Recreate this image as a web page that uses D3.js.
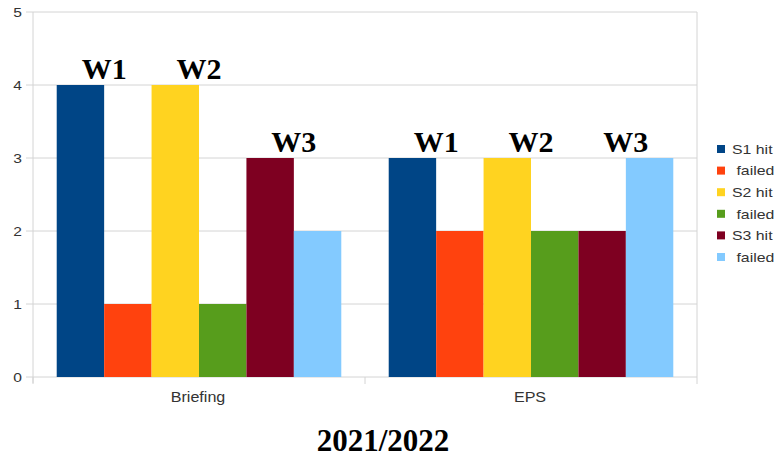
<!DOCTYPE html>
<html>
<head>
<meta charset="utf-8">
<script src="https://cdn.jsdelivr.net/npm/d3@7"></script>
<style>
  html, body { margin: 0; padding: 0; background: #fff; }
  svg { display: block; }
</style>
</head>
<body>
<svg id="chart" width="775" height="457"></svg>
<script>
// Categories along the x axis
const categories = ["Briefing", "EPS"];
// Series names as shown in the legend
const seriesNames = ["S1 hit", " failed", "S2 hit", " failed", "S3 hit", " failed"];
const seriesColors = ["#004586", "#ff420e", "#ffd320", "#579d1c", "#7e0021", "#83caff"];
// Values per category, one per series
const briefingValues = [4, 1, 4, 1, 3, 2];
const epsValues = [3, 2, 3, 2, 2, 3];
const values = [briefingValues, epsValues];
// Group labels, each placed over a hit/failed pair
const weekLabels = ["W1", "W2", "W3"];
const yTicks = [0, 1, 2, 3, 4, 5];
const chartTitle = "2021/2022";

const svg = d3.select("#chart");
const plotLeft = 33, plotRight = 697, plotTop = 12, plotBottom = 377;
const sansFont = "Liberation Sans, Arial, sans-serif";
const serifFont = "Liberation Serif, Times New Roman, serif";
const textColor = "#333";
const gridColor = "#d4d4d4";

const x0 = d3.scaleBand().domain(categories).range([plotLeft, plotRight]).padding(0);
const x1 = d3.scaleBand().domain(d3.range(seriesNames.length))
  .range([0, x0.bandwidth()]).paddingInner(0).paddingOuter(0.5);
const y = d3.scaleLinear().domain([0, 5]).range([plotBottom, plotTop]);

// Sans labels are drawn slightly widened
function wideText(sel, x, yPos, sx) {
  return sel.attr("x", 0).attr("y", 0)
    .attr("transform", (d, i) => `translate(${x(d, i)},${yPos(d, i)}) scale(${sx},1)`);
}

// Horizontal grid lines
svg.append("g").selectAll("line").data(yTicks).join("line")
  .attr("x1", plotLeft - 7).attr("x2", plotRight)
  .attr("y1", d => y(d)).attr("y2", d => y(d))
  .attr("stroke", gridColor).attr("stroke-width", 1);

// Right border and left axis line
svg.append("line").attr("x1", plotRight).attr("x2", plotRight).attr("y1", plotTop).attr("y2", plotBottom)
  .attr("stroke", gridColor);
svg.append("line").attr("x1", plotLeft).attr("x2", plotLeft).attr("y1", plotTop).attr("y2", plotBottom + 6)
  .attr("stroke", gridColor);

// Category dividers below the axis
const dividers = [plotLeft, ...categories.map(c => x0(c) + x0.bandwidth())];
svg.append("g").selectAll("line").data(dividers).join("line")
  .attr("x1", d => d).attr("x2", d => d)
  .attr("y1", plotBottom).attr("y2", plotBottom + 7)
  .attr("stroke", gridColor);

// Y tick labels
wideText(
  svg.append("g").selectAll("text").data(yTicks).join("text"),
  () => 22, d => y(d) + 4.5, 1.2)
  .attr("text-anchor", "end")
  .attr("font-family", sansFont)
  .attr("font-size", 13).attr("fill", textColor)
  .text(d => d);

// Bars
const groups = svg.append("g").selectAll("g").data(categories).join("g")
  .attr("transform", c => `translate(${x0(c)},0)`);
groups.selectAll("rect")
  .data((c, ci) => values[ci].map((v, i) => ({ v, i })))
  .join("rect")
  .attr("x", d => x1(d.i))
  .attr("width", x1.bandwidth())
  .attr("y", d => y(d.v))
  .attr("height", d => y(0) - y(d.v))
  .attr("fill", d => seriesColors[d.i]);

// Week labels over each hit/failed pair
groups.each(function (c, ci) {
  const g = d3.select(this);
  weekLabels.forEach((w, k) => {
    const hi = Math.max(values[ci][2 * k], values[ci][2 * k + 1]);
    g.append("text")
      .attr("x", x1(2 * k) + x1.bandwidth())
      .attr("y", y(hi) - 6)
      .attr("text-anchor", "middle")
      .attr("font-family", serifFont)
      .attr("font-weight", "bold")
      .attr("font-size", 30)
      .attr("fill", "#000")
      .text(w);
  });
});

// Category labels
wideText(
  svg.append("g").selectAll("text").data(categories).join("text"),
  c => x0(c) + x0.bandwidth() / 2 - 1, () => 402, 1.15)
  .attr("text-anchor", "middle")
  .attr("font-family", sansFont)
  .attr("font-size", 14).attr("fill", textColor)
  .text(c => c);

// Legend
const legend = svg.append("g").selectAll("g").data(seriesNames).join("g")
  .attr("transform", (d, i) => `translate(717,${149 + i * 21.6})`);
legend.append("rect").attr("x", 0).attr("y", -4).attr("width", 8).attr("height", 8)
  .attr("fill", (d, i) => seriesColors[i]);
legend.append("text")
  .attr("transform", "translate(15,4.7) scale(1.22,1)")
  .attr("font-family", sansFont)
  .attr("font-size", 13).attr("fill", textColor)
  .style("white-space", "pre")
  .text(d => d);

// Title
svg.append("text")
  .attr("x", 383).attr("y", 451)
  .attr("text-anchor", "middle")
  .attr("font-family", serifFont)
  .attr("font-weight", "bold")
  .attr("font-size", 31)
  .attr("fill", "#000")
  .text(chartTitle);
</script>
</body>
</html>
